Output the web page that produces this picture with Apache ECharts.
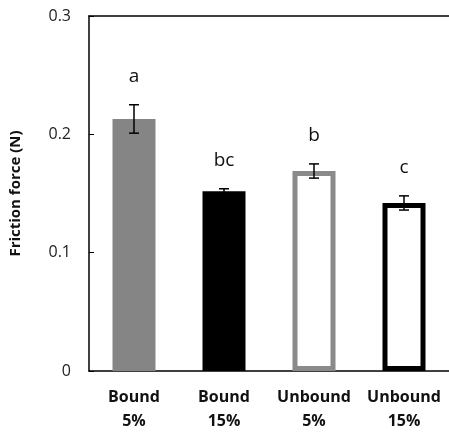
<!DOCTYPE html>
<html>
<head>
    <meta charset="UTF-8">
    <script src="https://cdn.jsdelivr.net/npm/echarts@6/dist/echarts.min.js"></script>
    <style>
        html, body { margin: 0; padding: 0; background: #fff; }
        #chart { width: 449px; height: 433px; }
    </style>
</head>
<body>
<div id="chart"></div>
<script type="text/javascript">
    // data
    const categories = ['Bound\n5%', 'Bound\n15%', 'Unbound\n5%', 'Unbound\n15%'];
    const friction = [0.213, 0.152, 0.169, 0.142];
    const errors = [0.012, 0.002, 0.006, 0.006];
    const letters = ['a', 'bc', 'b', 'c'];
    const yTicks = [0, 0.1, 0.2, 0.3];

    // fill / outline per bar
    const fills = ['#858585', '#000000', '#ffffff', '#ffffff'];
    const strokes = [null, null, '#8a8a8a', '#000000'];

    const chart = echarts.init(document.getElementById('chart'));
    const font = '"Open Sans", "DejaVu Sans", sans-serif';

    const rows = categories.map((c, i) => [i, friction[i], errors[i]]);

    const option = {
        animation: false,
        backgroundColor: '#ffffff',
        grid: { left: 86, top: 16, right: -6, bottom: 60 },
        xAxis: [{
            type: 'category',
            data: categories,
            axisLine: { lineStyle: { color: '#000', width: 1.5 } },
            axisTick: { inside: true, length: 5, lineStyle: { color: '#000' } },
            axisLabel: {
                color: '#111', fontFamily: font, fontWeight: 'bold', fontSize: 16,
                lineHeight: 24, margin: 14, interval: 0
            }
        }, {
            // top frame line only
            type: 'category',
            position: 'top',
            data: categories,
            axisLine: { lineStyle: { color: '#000', width: 1.5 } },
            axisTick: { show: false },
            axisLabel: { show: false }
        }],
        yAxis: {
            type: 'value',
            min: 0,
            max: 0.3,
            interval: 0.1,
            name: 'Friction force (N)',
            nameLocation: 'middle',
            nameGap: 66,
            nameTextStyle: { color: '#111', fontFamily: font, fontWeight: 'bold', fontSize: 15 },
            axisLine: { show: true, lineStyle: { color: '#000', width: 1.5 } },
            axisTick: { show: true, inside: true, length: 5, lineStyle: { color: '#000' } },
            splitLine: { show: false },
            axisLabel: {
                color: '#222', fontFamily: font, fontSize: 16, margin: 18,
                formatter: v => yTicks.indexOf(+v.toFixed(1)) >= 0 ? String(+v.toFixed(1)) : ''
            }
        },
        series: [{
            type: 'custom',
            data: rows,
            encode: { x: 0, y: 1 },
            renderItem: function (params, api) {
                const i = api.value(0);
                const v = api.value(1);
                const e = api.value(2);
                const base = api.coord([i, 0]);
                const top = api.coord([i, v]);
                const hi = api.coord([i, v + e]);
                const lo = api.coord([i, v - e]);
                const w = 43;
                const x = base[0] - w / 2;
                const children = [];
                const bw = 5;
                if (strokes[i]) {
                    children.push({
                        type: 'rect',
                        shape: { x: x + bw / 2, y: top[1] + bw / 2, width: w - bw, height: base[1] - top[1] - bw },
                        style: { fill: fills[i], stroke: strokes[i], lineWidth: bw }
                    });
                } else {
                    children.push({
                        type: 'rect',
                        shape: { x: x, y: top[1], width: w, height: base[1] - top[1] },
                        style: { fill: fills[i] }
                    });
                }
                const cx = base[0];
                const cap = 5;
                const errStyle = { stroke: '#000', lineWidth: 1.5 };
                children.push(
                    { type: 'line', shape: { x1: cx, y1: hi[1], x2: cx, y2: lo[1] }, style: errStyle },
                    { type: 'line', shape: { x1: cx - cap, y1: hi[1], x2: cx + cap, y2: hi[1] }, style: errStyle },
                    { type: 'line', shape: { x1: cx - cap, y1: lo[1], x2: cx + cap, y2: lo[1] }, style: errStyle },
                    {
                        type: 'text',
                        style: {
                            x: cx, y: hi[1] - 28, text: letters[i],
                            textAlign: 'center', textVerticalAlign: 'middle',
                            fill: '#111', fontFamily: font, fontSize: 19
                        }
                    }
                );
                return { type: 'group', children: children };
            }
        }]
    };
    chart.setOption(option);
</script>
</body>
</html>
